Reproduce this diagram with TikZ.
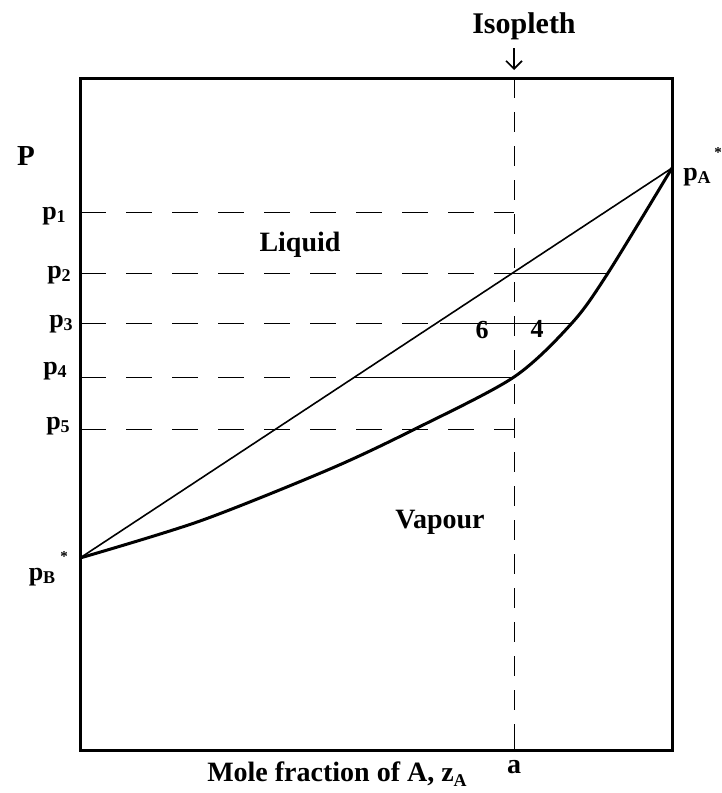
\documentclass[tikz,border=0pt]{standalone}
\usepackage{fontspec}
\setmainfont{Liberation Serif}
\usetikzlibrary{arrows.meta}
\newcommand\lbl[1]{\bfseries p\raisebox{-0.25ex}{\fontsize{18}{18}\selectfont #1}}
\begin{document}
\begin{tikzpicture}[x=1pt,y=-1pt,
  lab/.style={font=\fontsize{26}{28}\selectfont\bfseries, inner sep=0pt},
  big/.style={font=\fontsize{28}{30}\selectfont\bfseries, inner sep=0pt},
  dsh/.style={line width=1pt, dash pattern=on 26pt off 20pt},
  vdsh/.style={line width=1pt, dash pattern=on 20pt off 14pt},
  tie/.style={line width=1pt}]
\useasboundingbox (0,0) rectangle (722,793);
\fill[white] (0,0) rectangle (722,793);
% frame
\draw[line width=3pt] (80,78) rectangle (672,750);
% key coordinates
\coordinate (pB) at (80,558);
\coordinate (pA) at (672,168);
\coordinate (iso-top) at (514,78);
\coordinate (iso-bot) at (514,750);
\coordinate (l1) at (80,212);  \coordinate (i1) at (514,212);
\coordinate (l2) at (80,273);  \coordinate (i2) at (514,273); \coordinate (v2) at (608,273);
\coordinate (l3) at (80,323);  \coordinate (q3) at (440,323); \coordinate (v3) at (572,323);
\coordinate (l4) at (80,377);  \coordinate (q4) at (355,377); \coordinate (i4) at (514,377);
\coordinate (l5) at (80,429);  \coordinate (i5) at (514,429);
% isopleth
\draw[vdsh] (iso-top) -- (iso-bot);
\draw[line width=1pt] (514,78) -- (514,88);
\draw[line width=1pt] (514,727) -- (514,750);
% horizontal dashed lines
\draw[dsh] (l1) -- (i1);
\draw[dsh] (l2) -- (i2);
\draw[dsh] (l3) -- (q3);
\draw[dsh] (l4) -- (q4);
\draw[dsh] (l5) -- (i5);
% tie lines
\draw[tie] (i2) -- (v2);
\draw[tie] (q3) -- (v3);
\draw[tie] (q4) -- (i4);
% liquid line
\draw[line width=1.6pt] (pB) -- (pA);
% vapour curve
\draw[line width=3pt, line join=round] plot[smooth, tension=0.5] coordinates {(80,558) (200,521) (330,469) (415,429) (514,377) (572,323) (608,273) (672,168)};
% arrow
\node[font=\fontsize{30}{32}\selectfont\bfseries, inner sep=0pt] (isolbl) at (524,26) {Isopleth};
\coordinate (arrT) at (514,48);
\coordinate (arrB) at (514,70);
\draw[line width=1.6pt, -{Straight Barb[length=8pt,width=16pt]}] (arrT) -- (arrB);
% labels
\node[big, font=\fontsize{29}{30}\selectfont\bfseries] (P) at (26,156) {P};
\node[lab] (p1) at (54,216) {\lbl{1}};
\node[lab] (p2) at (59,275) {\lbl{2}};
\node[lab] (p3) at (61,324) {\lbl{3}};
\node[lab] (p4) at (55,371) {\lbl{4}};
\node[lab] (p5) at (58,426) {\lbl{5}};
\node[lab] (pAl) at (697,177) {\lbl{A}};
\node[font=\fontsize{15}{15}\selectfont\bfseries, inner sep=0pt] (pAs) at (718,153) {*};
\node[lab] (pBl) at (42,577) {\lbl{B}};
\node[font=\fontsize{15}{15}\selectfont\bfseries, inner sep=0pt] (pBs) at (64,557) {*};
\node[big] (liq) at (300,245) {Liquid};
\node[big] (vap) at (440,522) {Vapour};
\node[lab] (six) at (482,330) {6};
\node[lab] (four) at (537,329) {4};
\node[big] (xlab) at (337,774) {Mole fraction of A, z\raisebox{-0.35ex}{\fontsize{18}{18}\selectfont A}};
\node[big] (a) at (514,767) {a};
\end{tikzpicture}
\end{document}
